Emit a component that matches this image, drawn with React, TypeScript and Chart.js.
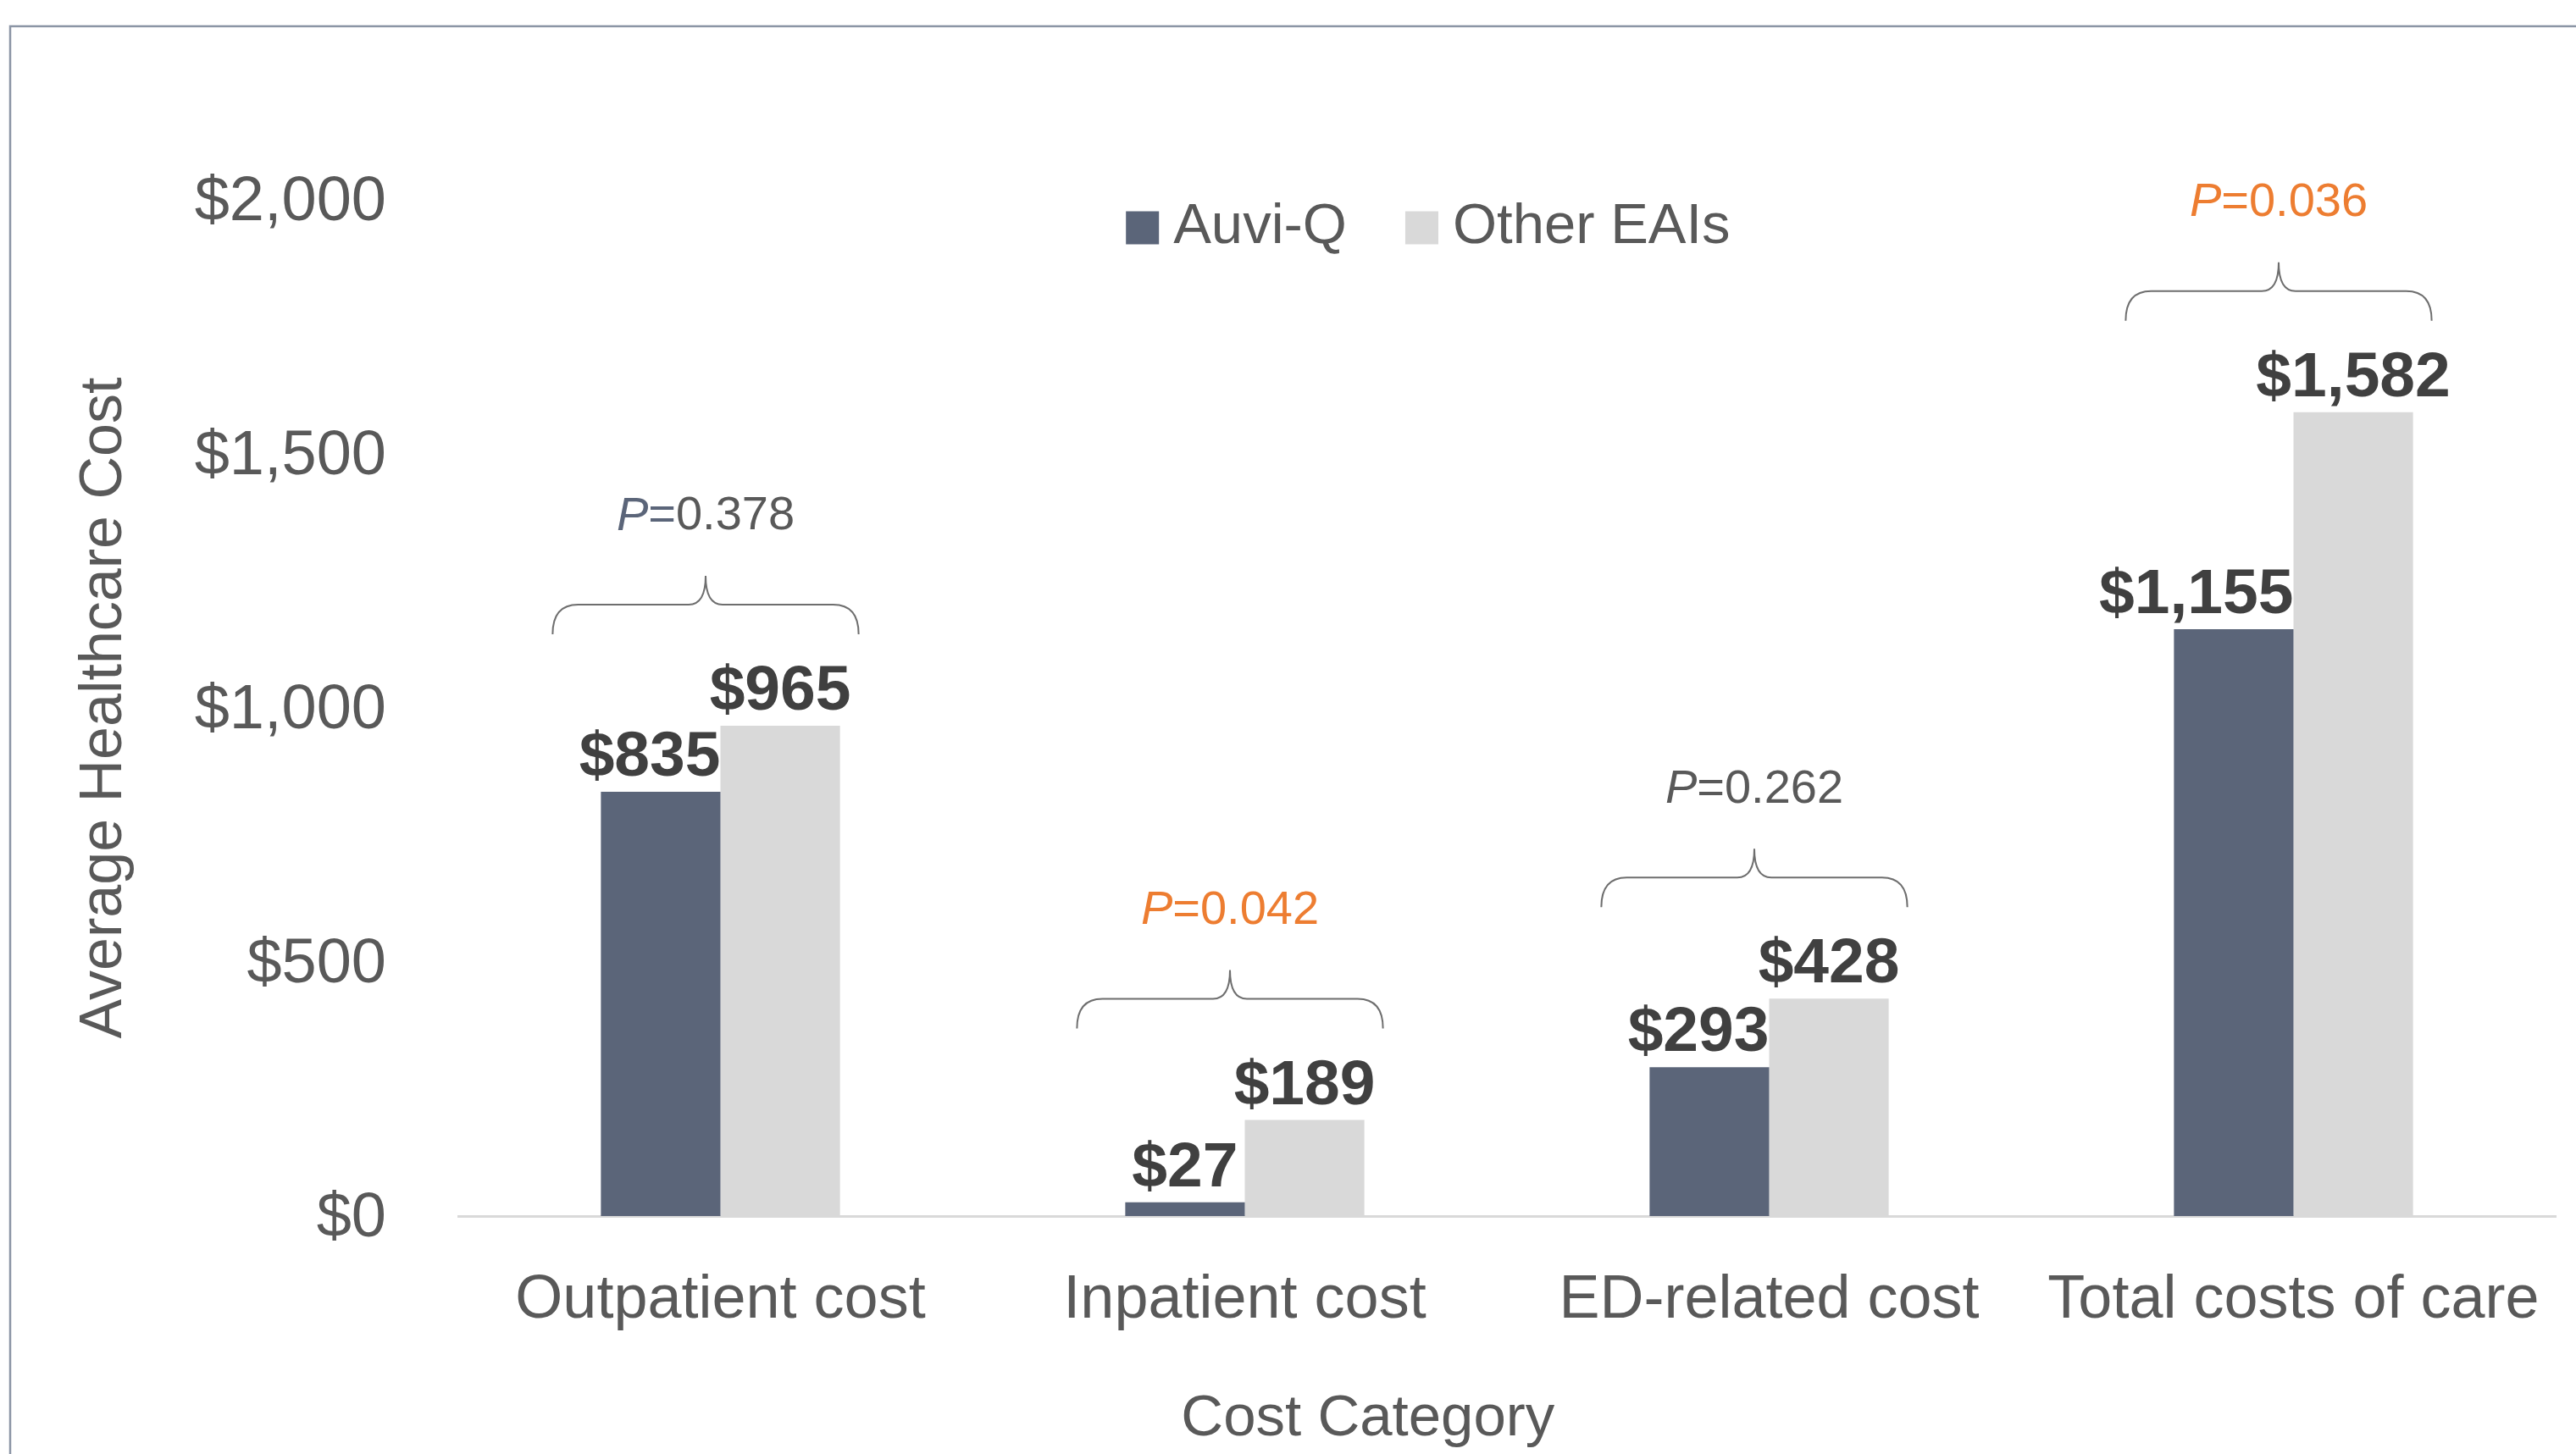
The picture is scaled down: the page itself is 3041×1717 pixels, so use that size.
import React, { useEffect, useRef } from "react";
import { Chart, registerables } from "chart.js";

Chart.register(...registerables);

const categories = ["Outpatient cost", "Inpatient cost", "ED-related cost", "Total costs of care"];
const auviQ = [835, 27, 293, 1155];
const otherEAIs = [965, 189, 428, 1582];
const seriesNames = ["Auvi-Q", "Other EAIs"];
const yTicks = [0, 500, 1000, 1500, 2000];
const pValues = ["0.378", "0.042", "0.262", "0.036"];
const pLabelColors = ["#5B6579", "#ED7D31", "#595959", "#ED7D31"];
const pNumberColors = ["#595959", "#ED7D31", "#595959", "#ED7D31"];

const FONT = "'Liberation Sans', Arial, Helvetica, sans-serif";
const DARK = "#5B6579";
const LIGHT = "#D9D9D9";
const TEXT = "#595959";
const LABEL = "#404040";

const overlayPlugin = {
  id: "overlay",
  beforeDraw(chart: any) {
    const { ctx, width, height } = chart;
    ctx.save();
    ctx.fillStyle = "#ffffff";
    ctx.fillRect(0, 0, width, height);
    ctx.strokeStyle = "#8B95A5";
    ctx.lineWidth = 2.5;
    ctx.beginPath();
    ctx.moveTo(12, height);
    ctx.lineTo(12, 31);
    ctx.lineTo(width, 31);
    ctx.stroke();
    ctx.restore();
  },
  afterDatasetsDraw(chart: any) {
    const { ctx, chartArea } = chart;
    const m0 = chart.getDatasetMeta(0);
    const m1 = chart.getDatasetMeta(1);
    ctx.save();

    // data labels
    ctx.font = `bold 75px ${FONT}`;
    ctx.fillStyle = LABEL;
    ctx.textBaseline = "alphabetic";
    [m0, m1].forEach((meta: any, di: number) => {
      const vals = di === 0 ? auviQ : otherEAIs;
      meta.data.forEach((el: any, i: number) => {
        const txt = "$" + vals[i].toLocaleString("en-US");
        const w = ctx.measureText(txt).width;
        let x = el.x;
        if (di === 0 && w > el.width) {
          x = el.x + el.width / 2 - w / 2;
        }
        ctx.textAlign = "center";
        ctx.fillText(txt, x, el.y - 19);
      });
    });

    // braces and p-values
    categories.forEach((_c, k) => {
      const e0 = m0.data[k];
      const e1 = m1.data[k];
      const x0 = e0.x - e0.width / 2 - 57;
      const x1 = e1.x + e1.width / 2 + 22;
      const xc = (x0 + x1) / 2;
      const top = Math.min(e0.y, e1.y);
      const yEnd = top - 108;
      const yMid = yEnd - 35;
      const yTip = yMid - 34;
      ctx.strokeStyle = "#6E6E6E";
      ctx.lineWidth = 2;
      ctx.beginPath();
      ctx.moveTo(x0, yEnd);
      ctx.quadraticCurveTo(x0, yMid, x0 + 30, yMid);
      ctx.lineTo(xc - 20, yMid);
      ctx.quadraticCurveTo(xc, yMid, xc, yTip);
      ctx.quadraticCurveTo(xc, yMid, xc + 20, yMid);
      ctx.lineTo(x1 - 30, yMid);
      ctx.quadraticCurveTo(x1, yMid, x1, yEnd);
      ctx.stroke();

      const ty = yTip - 70;
      const pFont = `italic 56px ${FONT}`;
      const nFont = `56px ${FONT}`;
      ctx.font = pFont;
      const wp = ctx.measureText("P").width;
      ctx.font = nFont;
      const weq = ctx.measureText("=").width;
      const wn = ctx.measureText(pValues[k]).width;
      let x = xc - (wp + weq + wn) / 2;
      ctx.textAlign = "left";
      ctx.textBaseline = "middle";
      ctx.font = pFont;
      ctx.fillStyle = pLabelColors[k];
      ctx.fillText("P", x, ty);
      x += wp;
      ctx.font = nFont;
      ctx.fillText("=", x, ty);
      x += weq;
      ctx.fillStyle = pNumberColors[k];
      ctx.fillText(pValues[k], x, ty);
    });

    // legend
    const box = 39;
    const gapText = 17;
    const gapItem = 69;
    ctx.font = `67px ${FONT}`;
    const colors = [DARK, LIGHT];
    const widths = seriesNames.map((s) => box + gapText + ctx.measureText(s).width);
    const total = widths[0] + gapItem + widths[1];
    let lx = chartArea.left + chartArea.width * 0.4624 - total / 2;
    const ly = chartArea.top + 33;
    seriesNames.forEach((s, i) => {
      ctx.fillStyle = colors[i];
      ctx.fillRect(lx, ly - box / 2, box, box);
      ctx.fillStyle = TEXT;
      ctx.textAlign = "left";
      ctx.textBaseline = "middle";
      ctx.fillText(s, lx + box + gapText, ly);
      lx += widths[i] + gapItem;
    });

    // x-axis title
    ctx.font = `69px ${FONT}`;
    ctx.fillStyle = TEXT;
    ctx.textAlign = "center";
    ctx.textBaseline = "middle";
    ctx.fillText("Cost Category", chartArea.left + chartArea.width * 0.4337, chartArea.bottom + 240);

    ctx.restore();
  },
};

export default function App() {
  const ref = useRef<HTMLCanvasElement | null>(null);
  useEffect(() => {
    if (!ref.current) return;
    const chart = new Chart(ref.current, {
      type: "bar",
      data: {
        labels: categories,
        datasets: [
          { label: seriesNames[0], data: auviQ, backgroundColor: DARK, categoryPercentage: 0.456, barPercentage: 1.0 },
          { label: seriesNames[1], data: otherEAIs, backgroundColor: LIGHT, categoryPercentage: 0.456, barPercentage: 1.0 },
        ],
      },
      options: {
        animation: false,
        responsive: false,
        devicePixelRatio: 1,
        layout: { padding: { top: 236, right: 24, left: 0, bottom: 0 } },
        plugins: { legend: { display: false }, tooltip: { enabled: false } },
        scales: {
          x: {
            grid: { display: false, drawTicks: false },
            border: { display: true, color: "#D9D9D9", width: 3 },
            ticks: { color: TEXT, font: { family: FONT, size: 72 }, padding: 57, autoSkip: false, maxRotation: 0 },
            afterFit: (axis: any) => {
              axis.height = 281;
              axis.paddingLeft = 0;
              axis.paddingRight = 0;
            },
          },
          y: {
            min: 0,
            max: 2000,
            afterBuildTicks: (axis: any) => {
              axis.ticks = yTicks.map((v) => ({ value: v }));
            },
            grid: { display: false, drawTicks: false },
            border: { display: false },
            ticks: {
              color: TEXT,
              font: { family: FONT, size: 74 },
              padding: 85,
              labelOffset: 4,
              callback: (v: any) => "$" + Number(v).toLocaleString("en-US"),
            },
            title: {
              display: true,
              text: "Average Healthcare Cost",
              color: TEXT,
              font: { family: FONT, size: 70 },
              padding: { top: 82, bottom: 0 },
            },
            afterFit: (axis: any) => {
              axis.width = 541;
              axis.paddingTop = 0;
              axis.paddingBottom = 0;
            },
          },
        },
      },
      plugins: [overlayPlugin],
    });
    return () => chart.destroy();
  }, []);
  return (
    <div style={{ position: "fixed", left: 0, top: 0, width: 3041, height: 1717, background: "#fff" }}>
      <canvas ref={ref} width={3041} height={1717} style={{ display: "block", width: 3041, height: 1717 }} />
    </div>
  );
}
